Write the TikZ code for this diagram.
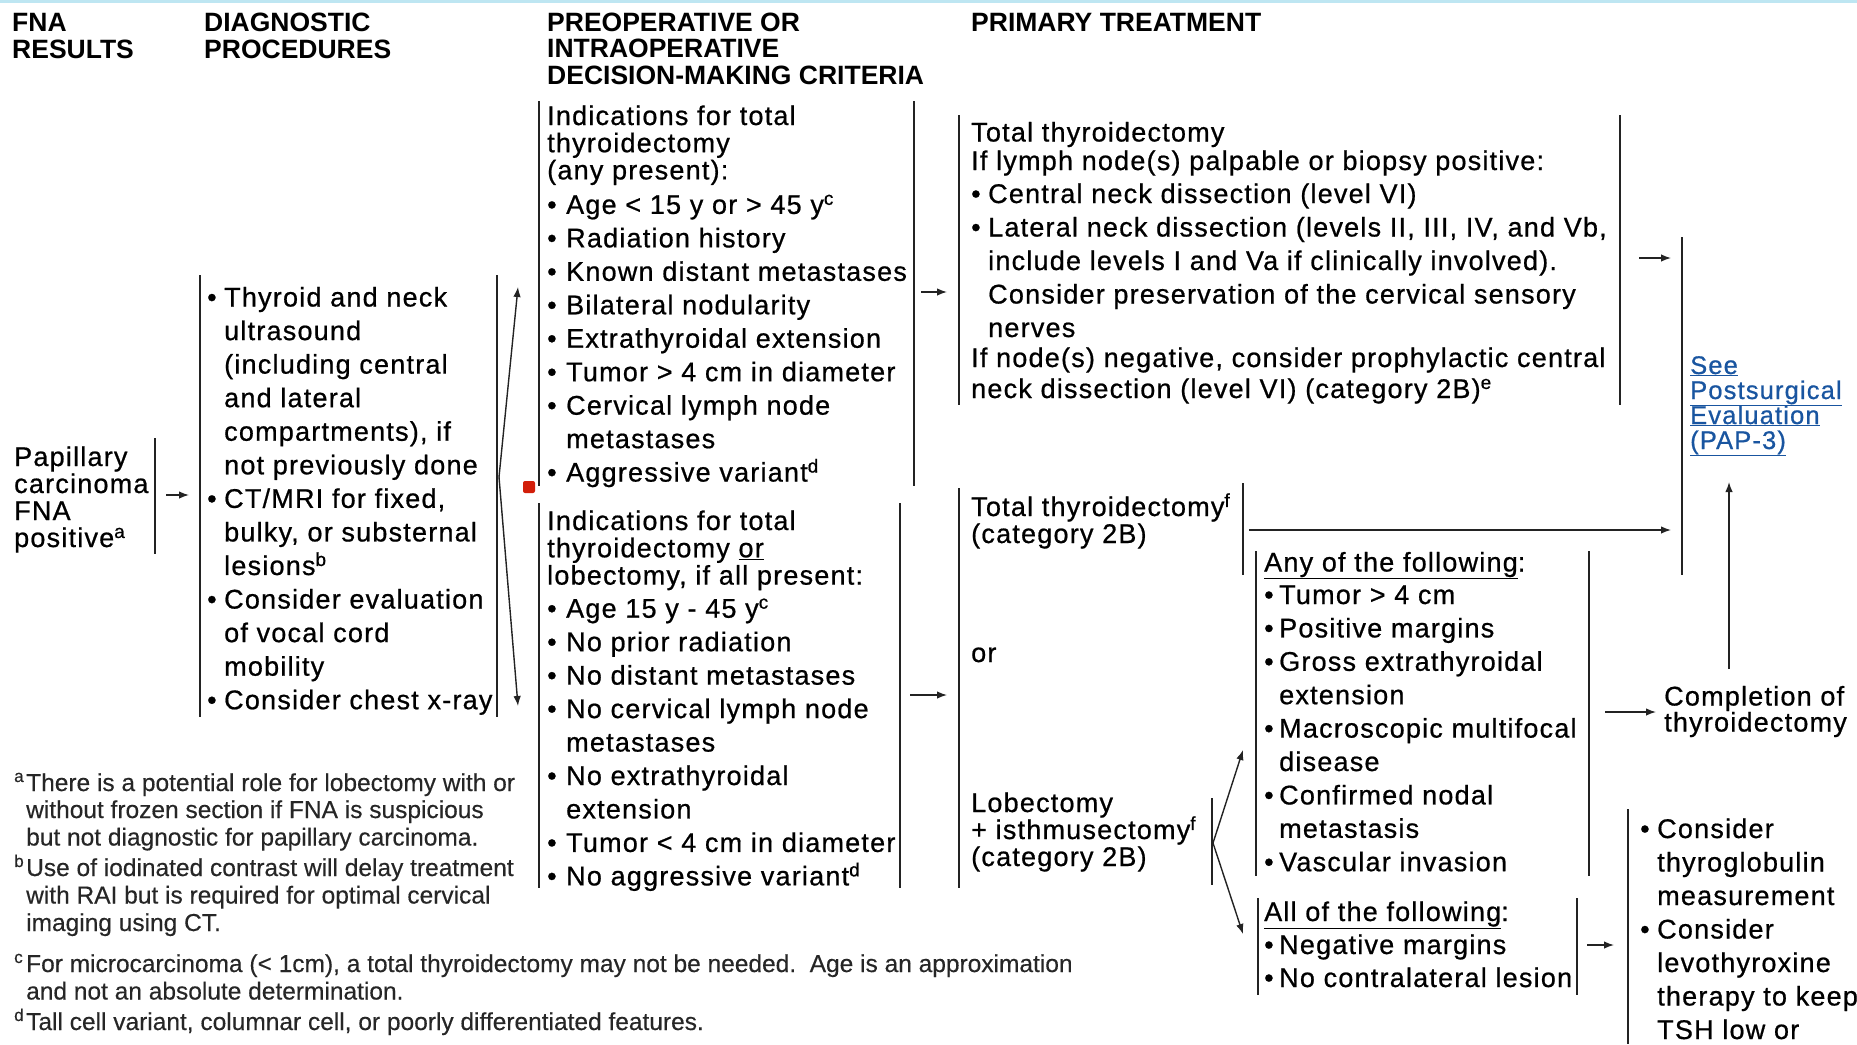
\documentclass[tikz,border=0pt]{standalone}
\usepackage{fontspec}
\setmainfont{Liberation Sans}
\newfontfamily\bodyfont{Liberation Sans}[LetterSpace=4.5,FakeBold=0.7]
\newfontfamily\fnfont{Liberation Sans}[FakeBold=0.3]
\usetikzlibrary{arrows.meta}
\definecolor{barc}{RGB}{35,35,35}
\definecolor{linkc}{RGB}{25,85,160}
\definecolor{topc}{RGB}{190,230,242}
\definecolor{dotc}{RGB}{210,30,10}
\newlength\bulw
\newcommand\Ls[1]{\baselineskip=#1pt\relax}
\newcommand\Lx[1]{\hbox{#1}}
\newcommand\Bu[1]{\hbox{\hbox to\bulw{•\hss}#1}}
\newcommand\Co[1]{\hbox{\hskip\bulw #1}}
\newcommand\Fn[2]{\hbox{\hbox to 12pt{\textsuperscript{#1}\hss}#2}}
\newcommand\Blk[1]{\vtop{\lineskiplimit=-1000pt\lineskip=0pt #1}}
\newcommand\Sup[1]{\textsuperscript{#1}}
\tikzset{
  txt/.style={anchor=base west, inner sep=0pt, text=black, font=\bodyfont\fontsize{27}{33.5}\selectfont},
  hdr/.style={anchor=base west, inner sep=0pt, text=black, font=\bfseries\fontsize{26.5}{27}\selectfont},
  fnote/.style={anchor=base west, inner sep=0pt, text=black!85, font=\fnfont\fontsize{24.5}{27}\selectfont},
  linktxt/.style={anchor=base west, inner sep=0pt, text=linkc, font=\bodyfont\fontsize{25.5}{25}\selectfont},
  bar/.style={line width=1.7pt, draw=barc},
  arr/.style={line width=1.4pt, draw=barc, -{Latex[length=10pt,width=7.5pt]}},
}
\begin{document}
\begin{tikzpicture}[x=1pt,y=-1pt]
\useasboundingbox (0,0) rectangle (1857,1044);
\fill[white] (0,0) rectangle (1857,1044);
\fill[topc] (0,0) rectangle (1857,2.5);

% headers
\node[hdr] (hfna) at (12,31) {\Blk{\Ls{27}\Lx{FNA}\Lx{RESULTS}}};
\node[hdr] (hdiag) at (204,31) {\Blk{\Ls{27}\Lx{DIAGNOSTIC}\Lx{PROCEDURES}}};
\node[hdr] (hpre) at (547,31) {\Blk{\Ls{26.5}\Lx{PREOPERATIVE OR}\Lx{INTRAOPERATIVE}\Lx{DECISION-MAKING CRITERIA}}};
\node[hdr] (hprim) at (971,31) {PRIMARY TREATMENT};

% FNA result
\node[txt] (pap) at (14,466) {\Blk{\Ls{27}\Lx{Papillary}\Lx{carcinoma}\Lx{FNA}\Lx{positive\Sup{a}}}};

% diagnostic procedures
\node[txt] (diag) at (207,306.5) {\Blk{\bulw=17pt\Ls{33.56}%
  \Bu{Thyroid and neck}\Co{ultrasound}\Co{(including central}\Co{and lateral}%
  \Co{compartments), if}\Co{not previously done}%
  \Bu{CT/MRI for fixed,}\Co{bulky, or substernal}\Co{lesions\Sup{b}}%
  \Bu{Consider evaluation}\Co{of vocal cord}\Co{mobility}%
  \Bu{Consider chest x-ray}}};

% criteria
\node[txt] (crit1) at (547,125) {\Blk{\bulw=19pt\Ls{27.2}%
  \Lx{Indications for total}\Lx{thyroidectomy}\Lx{(any present):}%
  \Ls{34.5}\Bu{Age < 15 y or > 45 y\Sup{c}}\Ls{33.46}%
  \Bu{Radiation history}\Bu{Known distant metastases}\Bu{Bilateral nodularity}%
  \Bu{Extrathyroidal extension}\Bu{Tumor > 4 cm in diameter}%
  \Bu{Cervical lymph node}\Co{metastases}\Bu{Aggressive variant\Sup{d}}}};
\node[txt] (crit2) at (547,530) {\Blk{\bulw=19pt\Ls{27.3}%
  \Lx{Indications for total}\Lx{thyroidectomy \underline{or}}\Lx{lobectomy, if all present:}%
  \Ls{33.1}\Bu{Age 15 y - 45 y\Sup{c}}\Ls{33.46}%
  \Bu{No prior radiation}\Bu{No distant metastases}\Bu{No cervical lymph node}%
  \Co{metastases}\Bu{No extrathyroidal}\Co{extension}%
  \Bu{Tumor < 4 cm in diameter}\Bu{No aggressive variant\Sup{d}}}};

% primary treatment
\node[txt] (prim1) at (971,141.5) {\Blk{\bulw=17pt%
  \Lx{Total thyroidectomy}\Ls{28.5}%
  \Lx{If lymph node(s) palpable or biopsy positive:}\Ls{33}%
  \Bu{Central neck dissection (level VI)}\Ls{33.5}%
  \Bu{Lateral neck dissection (levels II, III, IV, and Vb,}%
  \Co{include levels I and Va if clinically involved).}%
  \Co{Consider preservation of the cervical sensory}%
  \Co{nerves}\Ls{30}%
  \Lx{If node(s) negative, consider prophylactic central}\Ls{31}%
  \Lx{neck dissection (level VI) (category 2B)\Sup{e}}}};
\node[txt] (tot2) at (971,516) {\Blk{\Ls{27}\Lx{Total thyroidectomy\Sup{f}}\Lx{(category 2B)}}};
\node[txt] (ortxt) at (971,662) {or};
\node[txt] (lob) at (971,812) {\Blk{\Ls{27}\Lx{Lobectomy}\Lx{+ isthmusectomy\Sup{f}}\Lx{(category 2B)}}};

\node[txt] (anyof) at (1264,571.5) {\Blk{\bulw=15pt%
  \Lx{\underline{Any of the following}:}\Ls{32.5}%
  \Bu{Tumor > 4 cm}\Ls{33.4}\Bu{Positive margins}\Bu{Gross extrathyroidal}\Co{extension}%
  \Bu{Macroscopic multifocal}\Co{disease}\Bu{Confirmed nodal}\Co{metastasis}%
  \Bu{Vascular invasion}}};
\node[txt] (allof) at (1264,921) {\Blk{\bulw=15pt\Ls{33}%
  \Lx{\underline{All of the following}:}\Bu{Negative margins}\Bu{No contralateral lesion}}};

\node[txt] (compl) at (1664,705.5) {\Blk{\Ls{26}\Lx{Completion of}\Lx{thyroidectomy}}};
\node[txt] (cons) at (1640,838) {\Blk{\bulw=17pt\Ls{33.5}%
  \Bu{Consider}\Co{thyroglobulin}\Co{measurement}%
  \Bu{Consider}\Co{levothyroxine}\Co{therapy to keep}\Co{TSH low or}}};
\node[linktxt] (see) at (1690,374) {\Blk{\Ls{25}%
  \Lx{\underline{See}}\Lx{\underline{Postsurgical}}\Lx{\underline{Evaluation}}\Lx{\underline{(PAP-3)}}}};

% footnotes
\node[fnote] (fn) at (14,791) {\Blk{\Ls{27}%
  \Fn{a}{There is a potential role for lobectomy with or}%
  \Fn{}{without frozen section if FNA is suspicious}\Ls{27.5}%
  \Fn{}{but not diagnostic for papillary carcinoma.}\Ls{30.5}%
  \Fn{b}{Use of iodinated contrast will delay treatment}\Ls{27.5}%
  \Fn{}{with RAI but is required for optimal cervical}%
  \Fn{}{imaging using CT.}\Ls{41}%
  \Fn{c}{For microcarcinoma (< 1cm), a total thyroidectomy may not be needed.\ \ Age is an approximation}\Ls{27.5}%
  \Fn{}{and not an absolute determination.}\Ls{30.5}%
  \Fn{d}{Tall cell variant, columnar cell, or poorly differentiated features.}}};

% bracket bars
\draw[bar] (155,438) -- (155,554);
\draw[bar] (200,275) -- (200,717);
\draw[bar] (497,275) -- (497,717);
\draw[bar] (539,101) -- (539,486);
\draw[bar] (914,101) -- (914,486);
\draw[bar] (539,503) -- (539,888);
\draw[bar] (900,503) -- (900,888);
\draw[bar] (959,115) -- (959,405);
\draw[bar] (1620,115) -- (1620,405);
\draw[bar] (959,488) -- (959,888);
\draw[bar] (1243,483) -- (1243,575);
\draw[bar] (1212,798) -- (1212,885);
\draw[bar] (1256,551) -- (1256,876);
\draw[bar] (1589,551) -- (1589,876);
\draw[bar] (1258,898) -- (1258,995);
\draw[bar] (1577,898) -- (1577,995);
\draw[bar] (1682,237) -- (1682,575);
\draw[bar] (1628,809) -- (1628,1044);

% connector end points
\coordinate (a1s) at (166,495);  \coordinate (a1e) at (189,495);
\coordinate (dx) at (499,477);   \coordinate (dup) at (518,287); \coordinate (ddn) at (518,706);
\coordinate (c1s) at (921,292);  \coordinate (c1e) at (947,292);
\coordinate (c2s) at (910,695);  \coordinate (c2e) at (947,695);
\coordinate (p1s) at (1639,258); \coordinate (p1e) at (1671,258);
\coordinate (t1s) at (1249,530); \coordinate (t1e) at (1671,530);
\coordinate (lx) at (1213,843);  \coordinate (lup) at (1243,750); \coordinate (ldn) at (1243,934);
\coordinate (cs) at (1605,712);  \coordinate (ce) at (1656,712);
\coordinate (vs) at (1729,669);  \coordinate (ve) at (1729,482);
\coordinate (as) at (1587,945);  \coordinate (ae) at (1614,945);

\draw[arr] (a1s) -- (a1e);
\draw[arr] (dx) -- (dup);
\draw[arr] (dx) -- (ddn);
\draw[arr] (c1s) -- (c1e);
\draw[arr] (c2s) -- (c2e);
\draw[arr] (p1s) -- (p1e);
\draw[arr] (t1s) -- (t1e);
\draw[arr] (lx) -- (lup);
\draw[arr] (lx) -- (ldn);
\draw[arr] (cs) -- (ce);
\draw[arr] (vs) -- (ve);
\draw[arr] (as) -- (ae);

% red marker
\fill[dotc, rounded corners=2pt] (523,481) rectangle (535,493);
\end{tikzpicture}
\end{document}
